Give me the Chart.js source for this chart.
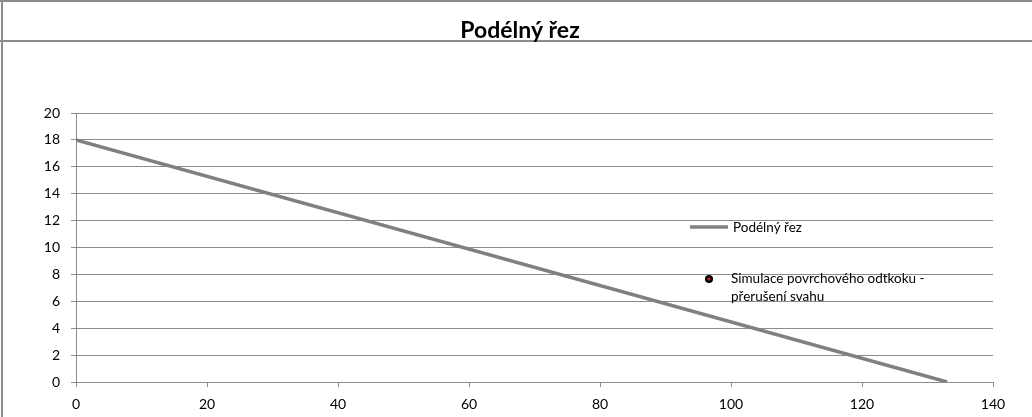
<!DOCTYPE html>
<html>
<head>
<meta charset="utf-8">
<script src="https://cdn.jsdelivr.net/npm/chart.js@4"></script>
<style>
  html, body { margin: 0; padding: 0; background: #fff; }
  #wrap { position: relative; width: 1032px; height: 417px; }
</style>
</head>
<body>
<div id="wrap"><canvas id="chart" width="1032" height="417"></canvas></div>
<script>
// profile data (distance, height)
const profileX = [0, 133];
const profileY = [18, 0];
const simulationPoints = [];
const chartTitle = 'Podélný řez';
const seriesNames = ['Podélný řez', 'Simulace povrchového odtkoku - přerušení svahu'];
const FONT = 'Lato, "Open Sans", sans-serif';

// frame + title band, like the spreadsheet cell borders
const framePlugin = {
    id: 'frame',
    beforeDraw(chart) {
        const ctx = chart.ctx;
        ctx.save();
        ctx.strokeStyle = '#8c8c8c';
        ctx.lineWidth = 2;
        ctx.beginPath();
        ctx.moveTo(0, 1); ctx.lineTo(1032, 1);
        ctx.moveTo(2, 0); ctx.lineTo(2, 417);
        ctx.moveTo(0, 41); ctx.lineTo(1032, 41);
        ctx.stroke();
        ctx.fillStyle = '#000';
        ctx.font = 'bold 23px ' + FONT;
        ctx.textAlign = 'center';
        ctx.textBaseline = 'alphabetic';
        ctx.fillText(chartTitle, 520, 38);
        ctx.restore();
    }
};

// legend drawn over the plot on the right side
const legendPlugin = {
    id: 'sideLegend',
    afterDraw(chart) {
        const ctx = chart.ctx;
        const ds = chart.data.datasets;
        ctx.save();
        ctx.font = '13.5px ' + FONT;
        ctx.fillStyle = '#000';
        ctx.textBaseline = 'middle';
        ctx.textAlign = 'left';
        // line series
        ctx.strokeStyle = ds[0].borderColor;
        ctx.lineWidth = 3.5;
        ctx.beginPath();
        ctx.moveTo(690, 227); ctx.lineTo(728, 227);
        ctx.stroke();
        ctx.fillText(ds[0].label, 733, 228);
        // point series
        ctx.beginPath();
        ctx.arc(709, 279, 4, 0, Math.PI * 2);
        ctx.fillStyle = '#000';
        ctx.fill();
        ctx.beginPath();
        ctx.arc(709, 279, 1.6, 0, Math.PI * 2);
        ctx.fillStyle = '#d02020';
        ctx.fill();
        ctx.fillStyle = '#000';
        ctx.fillText('Simulace povrchového odtkoku -', 731, 279);
        ctx.fillText('přerušení svahu', 731, 297);
        ctx.restore();
    }
};

new Chart(document.getElementById('chart'), {
    type: 'scatter',
    data: {
        datasets: [{
            label: seriesNames[0],
            data: profileX.map((x, i) => ({ x: x, y: profileY[i] })),
            showLine: true,
            borderColor: '#808080',
            borderWidth: 3.5,
            pointRadius: 0,
            fill: false
        }, {
            label: seriesNames[1],
            data: simulationPoints,
            pointRadius: 4,
            backgroundColor: '#d02020',
            borderColor: '#000'
        }]
    },
    options: {
        responsive: false,
        animation: false,
        layout: { padding: { top: 113, right: 39, bottom: 0, left: 0 } },
        plugins: {
            legend: { display: false },
            title: { display: false },
            tooltip: { enabled: false }
        },
        scales: {
            x: {
                type: 'linear',
                min: 0, max: 140,
                afterFit(scale) { scale.height = 35; },
                ticks: { stepSize: 20, color: '#000', font: { family: FONT, size: 14 }, padding: 9, maxRotation: 0 },
                grid: { drawOnChartArea: false, drawTicks: true, tickLength: 5, color: '#8c8c8c' },
                border: { display: true, color: '#8c8c8c', width: 1 }
            },
            y: {
                min: 0, max: 20,
                afterFit(scale) { scale.width = 76; },
                ticks: { stepSize: 2, color: '#000', font: { family: FONT, size: 14 }, padding: 11 },
                grid: { color: '#8c8c8c', tickLength: 5 },
                border: { display: true, color: '#8c8c8c', width: 1 }
            }
        }
    },
    plugins: [framePlugin, legendPlugin]
});
</script>
</body>
</html>
